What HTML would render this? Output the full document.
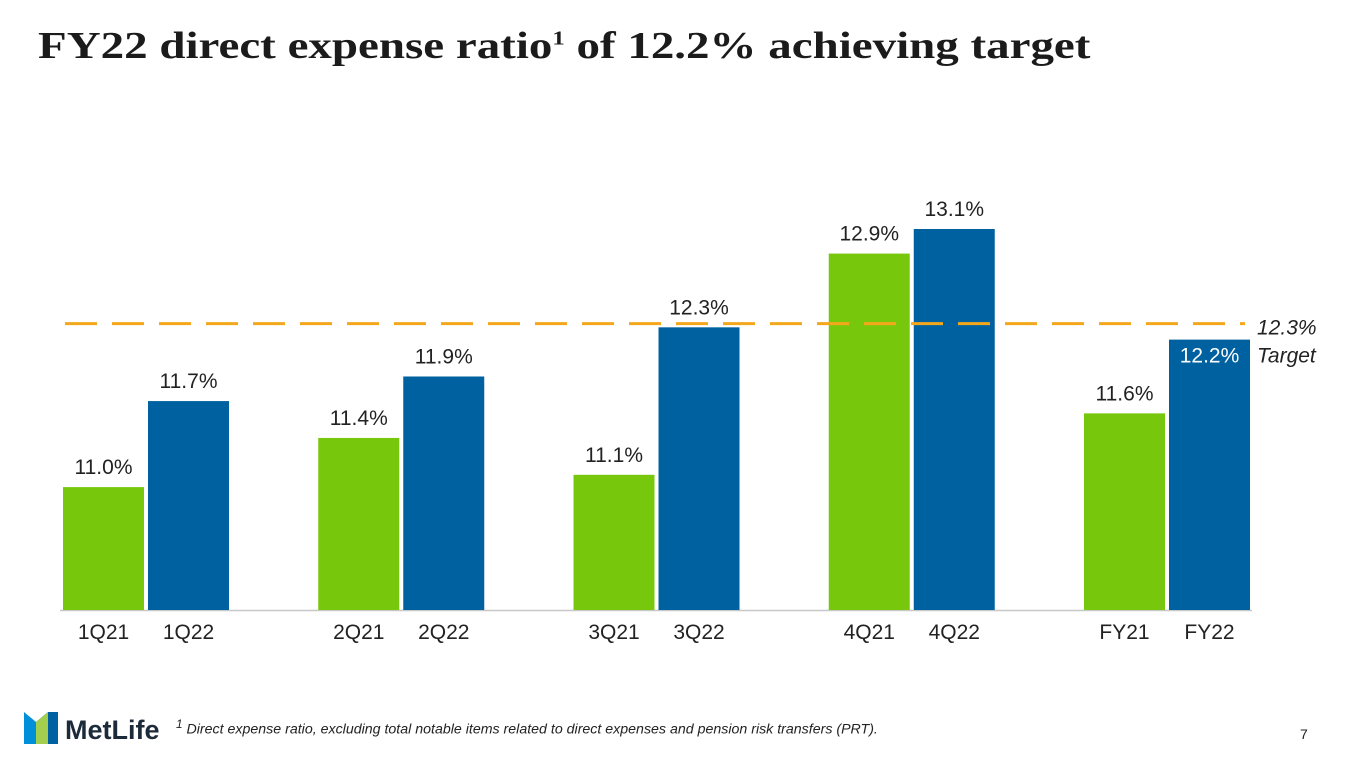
<!DOCTYPE html>
<html><head><meta charset="utf-8"><style>
body{margin:0;width:1365px;height:769px;background:#fff;overflow:hidden;font-family:"Liberation Sans",sans-serif;position:relative}
#title{position:absolute;left:38px;top:24px;font-family:"Liberation Serif",serif;font-weight:bold;font-size:38px;color:#1b1b1b;margin:0;white-space:nowrap;transform:scaleX(1.236);transform-origin:0 0}
#title sup{font-size:20px}
#foot{position:absolute;left:176px;top:717px;font-size:14.2px;font-style:italic;color:#222;white-space:nowrap}
#pg{position:absolute;left:1300px;top:726px;font-size:14px;color:#222}
</style></head><body>
<h1 id="title">FY22 direct expense ratio<sup>1</sup> of 12.2% achieving target</h1>
<svg id="chart" width="1365" height="769" style="position:absolute;left:0;top:0"></svg>
<div id="foot"><sup>1</sup> Direct expense ratio, excluding total notable items related to direct expenses and pension risk transfers (PRT).</div>
<div id="pg">7</div>
<svg width="160" height="40" style="position:absolute;left:22px;top:708px">
<polygon points="2,4 14,14 14,36 2,36" fill="#0090DA"/>
<polygon points="14,14 26,4 36,4 36,36 24,36 14,26" fill="#0061A0"/>
<polygon points="14,14 26,4 26,36 14,36" fill="#A4CE4E"/>
<text x="43" y="31" font-family="Liberation Sans" font-weight="bold" font-size="27" fill="#1d2a3a">MetLife</text>
</svg>
<script>
const categories=["1Q21","1Q22","2Q21","2Q22","3Q21","3Q22","4Q21","4Q22","FY21","FY22"];
const values=[11.0,11.7,11.4,11.9,11.1,12.3,12.9,13.1,11.6,12.2];
const valueLabels=["11.0%","11.7%","11.4%","11.9%","11.1%","12.3%","12.9%","13.1%","11.6%","12.2%"];
const targetValue=12.33;
const targetLabel=["12.3%","Target"];
const svg=document.getElementById('chart');
const NS="http://www.w3.org/2000/svg";
const yMin=10.0, base=610, pxPer=122.9;
const y=v=>base-(v-yMin)*pxPer;
const x=i=>63+Math.floor(i/2)*255.25+(i%2)*85;
const bw=81;
function mk(t,a){const e=document.createElementNS(NS,t);for(const k in a)e.setAttribute(k,a[k]);svg.appendChild(e);return e;}
const ax=mk('line',{x1:60,x2:1252,y1:base+0.5,y2:base+0.5,stroke:'#c8c8c8','stroke-width':1.5});


values.forEach((v,i)=>{
 const r=mk('rect',{x:x(i),y:y(v),width:bw,height:base-y(v),fill:i%2?'#0061A0':'#77C80C'});
 
 
 const inside=i===values.length-1;
 const t=mk('text',{x:x(i)+bw/2,y:inside?y(v)+23:y(v)-13,'text-anchor':'middle','font-size':21,fill:inside?'#fff':'#222','font-family':'Liberation Sans'});
 t.textContent=valueLabels[i];
 
 
 const c=mk('text',{x:x(i)+bw/2,y:639,'text-anchor':'middle','font-size':21,fill:'#222','font-family':'Liberation Sans'});
 c.textContent=categories[i];
 
 
});
const tl=mk('line',{x1:65,x2:1245,y1:y(targetValue),y2:y(targetValue),stroke:'#F5A71C','stroke-width':3,'stroke-dasharray':'32 15'});


targetLabel.forEach((s,k)=>{
 const t=mk('text',{x:1257,y:y(targetValue)+11+k*28,'font-size':21,'font-style':'italic',fill:'#222','font-family':'Liberation Sans'});
 t.textContent=s;
 
 
});
</script>
</body></html>
